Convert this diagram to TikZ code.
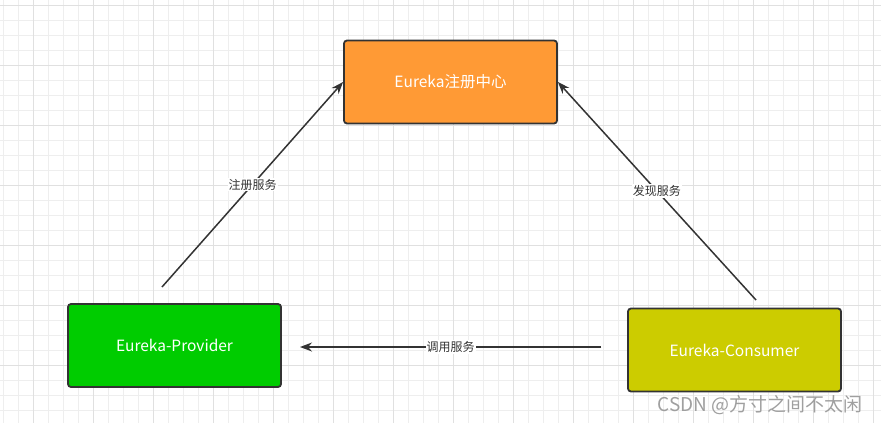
\documentclass[tikz,border=0pt]{standalone}
\usepackage{fontspec}
\setmainfont{Noto Sans CJK SC}
\usetikzlibrary{arrows.meta, positioning}
\definecolor{regorange}{HTML}{FF9A35}
\definecolor{provgreen}{HTML}{00CC00}
\definecolor{consyellow}{HTML}{CCCC00}
\definecolor{boxline}{HTML}{333333}
\definecolor{linkgray}{HTML}{333333}
\definecolor{gridminor}{HTML}{EEEEEE}
\definecolor{gridmajor}{HTML}{E0E0E0}

\begin{document}
\begin{tikzpicture}[x=1pt, y=-1pt, >={Stealth[length=12pt, width=9pt]},
		box/.style={draw=boxline, line width=1.8pt, rounded corners=3pt,
			minimum width=213pt, minimum height=83pt, text=white,
			font=\fontsize{15.5}{17}\selectfont},
		link/.style={->, line width=1.5pt, draw=linkgray},
		tag/.style={fill=white, inner sep=1pt, text=linkgray,
			font=\fontsize{12}{14}\selectfont}]
		
		% page size and background grid
		\useasboundingbox (0,0) rectangle (881,423);
		\fill[white] (0,0) rectangle (881,423);
		\foreach \gx in {3,18,...,873}
			\draw[gridminor, line width=0.8pt] (\gx,0) -- (\gx,423);
		\foreach \gy in {5,20,...,420}
			\draw[gridminor, line width=0.8pt] (0,\gy) -- (881,\gy);
		\foreach \gx in {33,93,...,873}
			\draw[gridmajor, line width=0.8pt] (\gx,0) -- (\gx,423);
		\foreach \gy in {5,65,...,420}
			\draw[gridmajor, line width=0.8pt] (0,\gy) -- (881,\gy);
		
		% the three services
		\node[box, fill=regorange] (registry) at (450.5,82) {Eureka注册中心};
		\node[box, fill=provgreen] (provider) at (174.5,345.5) {Eureka-Provider};
		\node[box, fill=consyellow] (consumer) at (734.5,350) {Eureka-Consumer};
		
		% free ends of the arrows
		\coordinate (provtop) at (162,287);
		\coordinate (constop) at (756,300);
		\coordinate (consleft) at (601,347);
		\coordinate (provright) at (300,347);
		
		% register, discover and call
		\draw[link] (provtop) -- node[tag] {注册服务} (registry.west);
		\draw[link] (constop) -- node[tag] {发现服务} (registry.east);
		\draw[link] (consleft) -- node[tag] {调用服务} (provright);
		
		% watermark
		\node[text=gray!75, font=\fontsize{19}{21}\selectfont] (mark) at (760,405) {CSDN @方寸之间不太闲};
	\end{tikzpicture}
\end{document}
